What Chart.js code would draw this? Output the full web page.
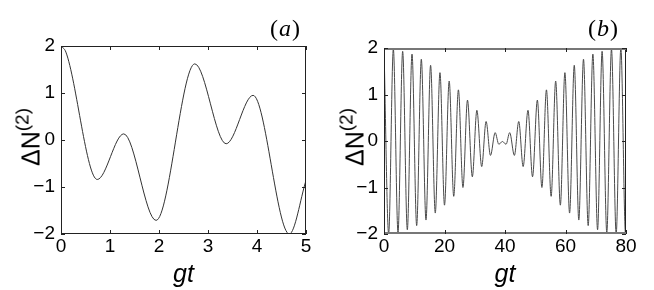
<!DOCTYPE html>
<html lang="en">
<head>
    <meta charset="UTF-8">
    <title>Delta N(2) vs gt</title>
    <script src="https://cdn.jsdelivr.net/npm/chart.js"></script>
    <style>
        body {
            margin: 0;
            background: #fff;
            width: 654px;
            height: 290px;
            overflow: hidden;
            position: relative;
            font-family: 'Liberation Sans', Arial, sans-serif;
        }
        .panel {
            position: absolute;
            top: 0;
            width: 327px;
            height: 290px;
        }
        .ylab {
            position: absolute;
            font-size: 25px;
            white-space: nowrap;
            transform: translate(-50%, -50%) rotate(-90deg);
            line-height: 1;
        }
        .ylab sup {
            font-size: 19px;
            vertical-align: 0;
            position: relative;
            top: -11px;
        }
        .tag {
            position: absolute;
            font-family: 'Liberation Serif', 'DejaVu Serif', serif;
            font-size: 24px;
            line-height: 1;
        }
        .tag i { padding: 0 1px; }
    </style>
</head>
<body>
    <div class="panel" style="left:0"><canvas id="chartA" width="327" height="290"></canvas></div>
    <div class="panel" style="left:327px"><canvas id="chartB" width="327" height="290"></canvas></div>

    <div class="ylab" style="left:31px; top:137px">&Delta;N<sup>(2)</sup></div>
    <div class="ylab" style="left:355px; top:137px">&Delta;N<sup>(2)</sup></div>
    <div class="tag" style="left:270px; top:16px">(<i>a</i>)</div>
    <div class="tag" style="left:588px; top:16px">(<i>b</i>)</div>

    <script>
        // panel (a): extrema, gt 0..5
        const tA = [0, 0.1, 0.74, 1.28, 1.94, 2.73, 3.37, 3.92, 4.66, 5.0];
        const vA = [2.0, 1.87, -0.84, 0.13, -1.71, 1.62, -0.08, 0.95, -2.0, -0.86];

        // panel (b): peaks and troughs, gt 0..80
        const tB = [0, 1.54, 3.09, 4.63, 6.17, 7.71, 9.26, 10.8, 12.34, 13.88,
                    15.4, 16.95, 18.5, 20.0, 21.55, 23.05, 24.6, 26.1, 27.6, 29.2,
                    30.7, 32.3, 33.75, 35.2, 36.75, 37.95, 39.15, 40.35, 41.55, 43.1,
                    44.55, 46.0, 47.6, 49.1, 50.7, 52.2, 53.7, 55.25, 56.75, 58.3,
                    59.8, 61.35, 62.9, 64.4, 65.95, 67.5, 69.05, 70.6, 72.1, 73.65,
                    75.2, 76.75, 78.3, 79.85, 80];
        const vB = [2.0, -2.0, 1.98, -1.97, 1.93, -1.91, 1.87, -1.82, 1.76, -1.70,
                    1.63, -1.55, 1.47, -1.38, 1.29, -1.19, 1.10, -1.0, 0.88, -0.77,
                    0.66, -0.55, 0.42, -0.31, 0.18, -0.07, -0.01, -0.07, 0.18, -0.31,
                    0.42, -0.55, 0.66, -0.77, 0.88, -1.0, 1.10, -1.19, 1.29, -1.38,
                    1.47, -1.55, 1.63, -1.70, 1.76, -1.82, 1.87, -1.91, 1.93, -1.97,
                    1.98, -2.0, 2.0, -2.0, -1.98];

        const yTicks = [-2, -1, 0, 1, 2];
        const xTicksA = [0, 1, 2, 3, 4, 5];
        const xTicksB = [0, 20, 40, 60, 80];

        const tickFont = { family: "'Liberation Sans', Arial, sans-serif", size: 19 };

        // box around the plot plus matlab-style inward ticks
        const frame = {
            id: 'frame',
            afterDatasetsDraw(chart, args, opts) {
                const { ctx, chartArea: a, scales } = chart;
                ctx.save();
                ctx.strokeStyle = '#222';
                ctx.lineWidth = 1;
                ctx.strokeRect(a.left + 0.5, a.top + 0.5, a.right - a.left - 1, a.bottom - a.top - 1);
                if (opts.heavy) {
                    // top/bottom edges look heavier where the curve grazes them
                    ctx.strokeStyle = '#777';
                    ctx.lineWidth = 2;
                    ctx.beginPath();
                    ctx.moveTo(a.left, a.top + 1); ctx.lineTo(a.right, a.top + 1);
                    ctx.moveTo(a.left, a.bottom - 1); ctx.lineTo(a.right, a.bottom - 1);
                    ctx.stroke();
                    ctx.strokeStyle = '#222';
                    ctx.lineWidth = 1;
                }
                ctx.beginPath();
                scales.x.ticks.forEach(t => {
                    const px = Math.round(scales.x.getPixelForValue(t.value)) + 0.5;
                    ctx.moveTo(px, a.bottom); ctx.lineTo(px, a.bottom - 4);
                    ctx.moveTo(px, a.top); ctx.lineTo(px, a.top + 4);
                });
                scales.y.ticks.forEach(t => {
                    const py = Math.round(scales.y.getPixelForValue(t.value)) + 0.5;
                    ctx.moveTo(a.left, py); ctx.lineTo(a.left + 4, py);
                    ctx.moveTo(a.right, py); ctx.lineTo(a.right - 4, py);
                });
                ctx.stroke();
                ctx.restore();
            }
        };

        function makeChart(id, ts, vs, xTicks, box, color, heavy) {
            return new Chart(document.getElementById(id), {
                type: 'line',
                data: {
                    datasets: [{
                        data: ts.map((t, i) => ({ x: t, y: vs[i] })),
                        borderColor: color,
                        borderWidth: 1,
                        pointRadius: 0,
                        cubicInterpolationMode: 'monotone',
                        fill: false
                    }]
                },
                options: {
                    responsive: false,
                    animation: false,
                    layout: { padding: { top: box.top, right: box.right, left: 0, bottom: 0 } },
                    plugins: {
                        legend: { display: false },
                        tooltip: { enabled: false },
                        frame: { heavy: heavy }
                    },
                    scales: {
                        x: {
                            type: 'linear',
                            min: xTicks[0],
                            max: xTicks[xTicks.length - 1],
                            afterBuildTicks: s => { s.ticks = xTicks.map(v => ({ value: v })); },
                            afterFit: s => { s.height = box.bottom; },
                            grid: { display: false, drawTicks: false },
                            border: { display: false },
                            ticks: { font: tickFont, color: '#000', padding: 1, maxRotation: 0 },
                            title: {
                                display: true,
                                text: 'gt',
                                font: { family: "'Liberation Sans', Arial, sans-serif", size: 25, style: 'italic' },
                                color: '#000',
                                padding: { top: 3, bottom: 0 }
                            }
                        },
                        y: {
                            min: -2,
                            max: 2,
                            afterBuildTicks: s => { s.ticks = yTicks.map(v => ({ value: v })); },
                            afterFit: s => { s.width = box.left; },
                            grid: { display: false, drawTicks: false },
                            border: { display: false },
                            ticks: {
                                font: tickFont,
                                color: '#000',
                                padding: 6,
                                callback: v => v < 0 ? '\u2212' + Math.abs(v) : String(v)
                            }
                        }
                    }
                },
                plugins: [frame]
            });
        }

        makeChart('chartA', tA, vA, xTicksA, { left: 61, right: 21, top: 46, bottom: 56 }, '#333', false);
        makeChart('chartB', tB, vB, xTicksB, { left: 57, right: 28, top: 48, bottom: 56 }, '#4a4a4a', true);
    </script>
</body>
</html>
